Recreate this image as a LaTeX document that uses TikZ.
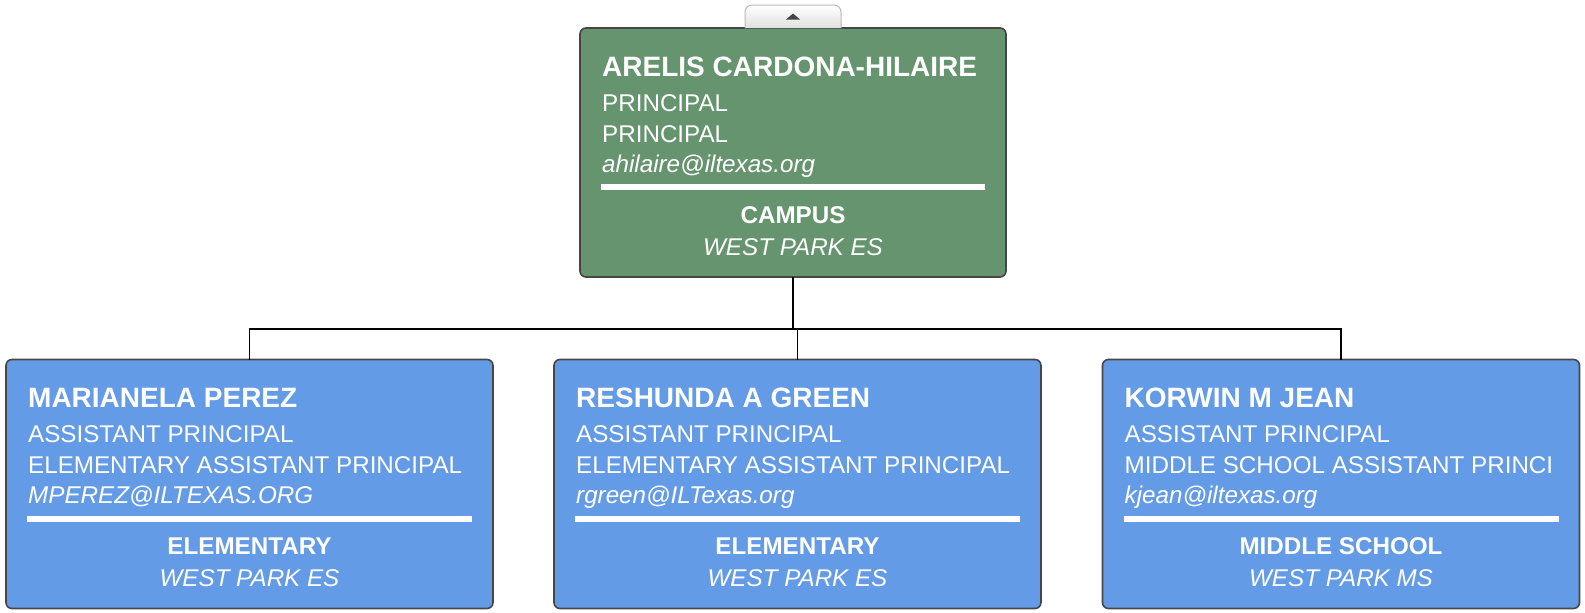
\documentclass[tikz,border=0pt]{standalone}
\usepackage{fontspec}
\setmainfont{Liberation Sans}
\usetikzlibrary{calc}
\definecolor{campusgreen}{RGB}{101,148,110}
\definecolor{staffblue}{RGB}{100,155,230}
\definecolor{cardedge}{RGB}{70,70,70}
\definecolor{tabedge}{RGB}{185,185,185}
\tikzset{
  card/.style={draw=cardedge,line width=1.6pt,rounded corners=6pt,minimum height=249pt,inner sep=0pt,outer sep=0pt},
  headcard/.style={card,fill=campusgreen,minimum width=426pt},
  staffcard/.style={card,fill=staffblue,minimum width=487pt},
  nametext/.style={anchor=base west,inner sep=0pt,text=white,font=\fontsize{28}{30}\selectfont\bfseries},
  roletext/.style={anchor=base west,inner sep=0pt,text=white,font=\fontsize{24.2}{26}\selectfont},
  mailtext/.style={roletext,font=\fontsize{24.2}{26}\selectfont\itshape},
  depttext/.style={anchor=base,inner sep=0pt,text=white,font=\fontsize{24.2}{26}\selectfont\bfseries},
  sitetext/.style={depttext,font=\fontsize{24.2}{26}\selectfont\itshape},
  cardrule/.style={draw=white,line width=6pt},
  link/.style={draw=black,line width=1.5pt},
}
% text lines of one card, placed from the card's corners
\newcommand{\cardtext}[7]{%
  \node[nametext] (#1-name) at ($(#1.north west)+(22,48)$) {#2};
  \node[roletext] (#1-role) at ($(#1.north west)+(22,83)$) {#3};
  \node[roletext] (#1-title) at ($(#1.north west)+(22,114)$) {#4};
  \node[mailtext] (#1-mail) at ($(#1.north west)+(22,144)$) {#5};
  \draw[cardrule] ($(#1.north west)+(21,159)$) -- ($(#1.north east)+(-21,159)$);
  \node[depttext] (#1-dept) at ($(#1.north)+(0,195)$) {#6};
  \node[sitetext] (#1-site) at ($(#1.north)+(0,227)$) {#7};
}

\begin{document}
\begin{tikzpicture}[x=1pt,y=-1pt]
  \useasboundingbox (0,0) rectangle (1585,613);
  % cards
  \node[headcard] (arelis) at (793,152.5) {};
  \node[staffcard] (perez) at (249.5,484) {};
  \node[staffcard] (green) at (797.5,484) {};
  \node[staffcard,minimum width=477pt] (jean) at (1341,484) {};
  % collapse tab
  \coordinate (tab) at ($(arelis.north)+(0,-11.5)$);
  \draw[tabedge,line width=1pt,top color=white,bottom color=black!12,rounded corners=7pt]
    ($(arelis.north)+(-48,0)$) -- ++(0,-23) -- ++(96,0) -- ++(0,23);
  \fill[cardedge] ($(tab)+(-7,3)$) -- ++(14,0) -- ++(-7,-6) -- cycle;
  % texts
  \cardtext{arelis}{ARELIS CARDONA-HILAIRE}{PRINCIPAL}{PRINCIPAL}{ahilaire@iltexas.org}{CAMPUS}{WEST PARK ES}
  \cardtext{perez}{MARIANELA PEREZ}{ASSISTANT PRINCIPAL}{ELEMENTARY ASSISTANT PRINCIPAL}{MPEREZ@ILTEXAS.ORG}{ELEMENTARY}{WEST PARK ES}
  \cardtext{green}{RESHUNDA A GREEN}{ASSISTANT PRINCIPAL}{ELEMENTARY ASSISTANT PRINCIPAL}{rgreen@ILTexas.org}{ELEMENTARY}{WEST PARK ES}
  \cardtext{jean}{KORWIN M JEAN}{ASSISTANT PRINCIPAL}{MIDDLE SCHOOL ASSISTANT PRINCI}{kjean@iltexas.org}{MIDDLE SCHOOL}{WEST PARK MS}
  % connectors
  \coordinate (bus) at ($(arelis.south)+(0,52)$);
  \draw[link] (arelis.south) -- (bus);
  \draw[link] (perez.north) |- (bus) -| (jean.north);
  \draw[link] (green.north) -- (green.north |- bus);
\end{tikzpicture}
\end{document}
